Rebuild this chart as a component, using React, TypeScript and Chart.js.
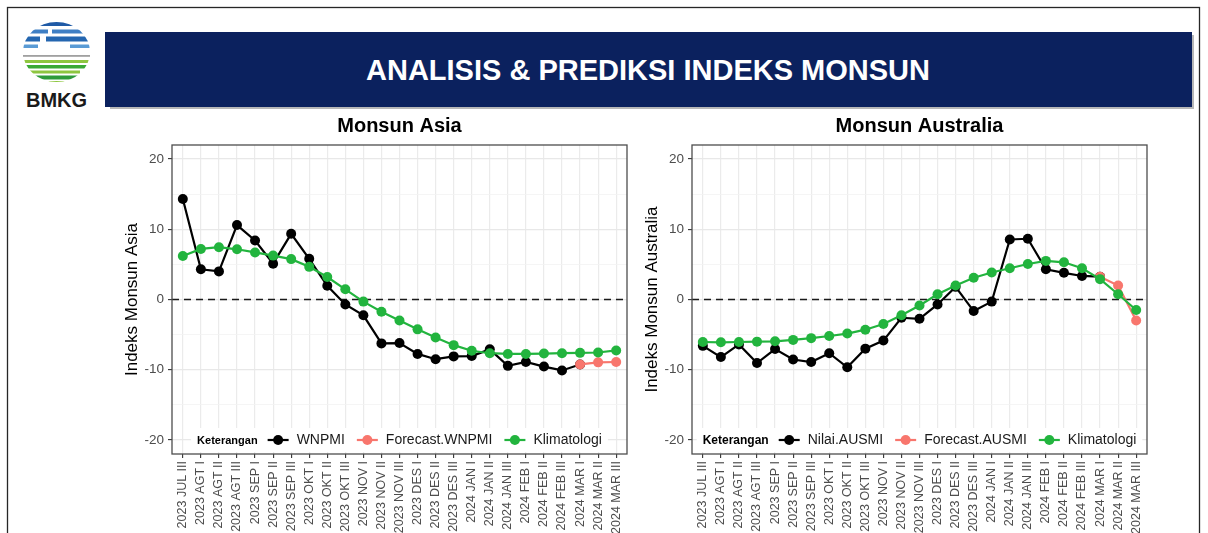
import React, { useEffect, useRef } from "react";
import { Chart, registerables } from "chart.js";

Chart.register(...registerables);

// ---------- data ----------
const periods: string[] = [
  "2023 JUL III", "2023 AGT I", "2023 AGT II", "2023 AGT III",
  "2023 SEP I", "2023 SEP II", "2023 SEP III",
  "2023 OKT I", "2023 OKT II", "2023 OKT III",
  "2023 NOV I", "2023 NOV II", "2023 NOV III",
  "2023 DES I", "2023 DES II", "2023 DES III",
  "2024 JAN I", "2024 JAN II", "2024 JAN III",
  "2024 FEB I", "2024 FEB II", "2024 FEB III",
  "2024 MAR I", "2024 MAR II", "2024 MAR III",
];

// Monsun Asia (WNPMI), observed from 2023 JUL III to 2024 MAR I
const asiaObserved: number[] = [
  14.3, 4.3, 4.0, 10.6, 8.4, 5.1, 9.35, 5.8, 1.95, -0.7, -2.25, -6.25, -6.2,
  -7.75, -8.5, -8.1, -8.05, -7.1, -9.45, -8.9, -9.55, -10.1, -9.25,
];
// Forecast from 2024 MAR I to 2024 MAR III
const asiaForecast: number[] = [-9.25, -8.95, -8.9];
const asiaClimatology: number[] = [
  6.2, 7.2, 7.45, 7.15, 6.7, 6.25, 5.75, 4.65, 3.2, 1.45, -0.3, -1.75, -3.0,
  -4.25, -5.4, -6.5, -7.3, -7.65, -7.75, -7.75, -7.7, -7.65, -7.6, -7.55, -7.25,
];

// Monsun Australia (AUSMI)
const ausObserved: number[] = [
  -6.6, -8.2, -6.4, -9.05, -7.05, -8.55, -8.9, -7.65, -9.65, -7.0, -5.85, -2.6,
  -2.75, -0.7, 1.8, -1.65, -0.3, 8.55, 8.65, 4.3, 3.8, 3.35, 3.25,
];
const ausForecast: number[] = [3.25, 2.0, -3.0];
const ausClimatology: number[] = [
  -6.05, -6.1, -6.05, -6.0, -5.95, -5.75, -5.5, -5.2, -4.85, -4.3, -3.5, -2.25,
  -0.85, 0.75, 2.0, 3.1, 3.85, 4.45, 5.05, 5.5, 5.3, 4.45, 2.9, 0.75, -1.5,
];

const FORECAST_START = 22; // index of "2024 MAR I"
const yTickValues: number[] = [-20, -15, -10, -5, 0, 5, 10, 15, 20];
const Y_MIN = -22;
const Y_MAX = 22;

// ---------- styles ----------
const FONT = "'Liberation Sans', Arial, Helvetica, sans-serif";
const BLACK = "#000000";
const SALMON = "#F8766D";
const GREEN = "#22B43E";

const decorPlugin = {
  id: "decor",
  beforeDatasetsDraw(chart: any) {
    const { ctx, chartArea: a, scales } = chart;
    const y0 = scales.y.getPixelForValue(0);
    ctx.save();
    ctx.strokeStyle = "#1a1a1a";
    ctx.lineWidth = 1.6;
    ctx.setLineDash([7, 5]);
    ctx.beginPath();
    ctx.moveTo(a.left, y0);
    ctx.lineTo(a.right, y0);
    ctx.stroke();
    ctx.restore();
  },
  afterDatasetsDraw(chart: any, _args: any, opts: any) {
    const { ctx, chartArea: a } = chart;
    ctx.save();
    const items = chart.data.datasets.map((d: any) => ({
      label: d.label,
      color: d.borderColor,
    }));
    const titleFont = `bold ${opts.legendTitleSize}px ${FONT}`;
    const itemFont = `14px ${FONT}`;
    ctx.font = titleFont;
    const titleW = ctx.measureText(opts.legendTitle).width;
    ctx.font = itemFont;
    const widths = items.map((it: any) => ctx.measureText(it.label).width);
    const keyW = 21;
    const keyGap = 8;
    const itemGap = 12;
    const titleGap = 10;
    let total = titleW + titleGap;
    widths.forEach((w: number, i: number) => {
      total += keyW + keyGap + w + (i < widths.length - 1 ? itemGap : 0);
    });
    const cx = (a.left + a.right) / 2;
    const cy = a.bottom - 14;
    let x = cx - total / 2;
    ctx.fillStyle = "#ffffff";
    ctx.fillRect(x - 6, cy - 12, total + 12, 24);
    ctx.textBaseline = "middle";
    ctx.textAlign = "left";
    ctx.fillStyle = "#000000";
    ctx.font = titleFont;
    ctx.fillText(opts.legendTitle, x, cy + 0.5);
    x += titleW + titleGap;
    items.forEach((it: any, i: number) => {
      ctx.strokeStyle = it.color;
      ctx.lineWidth = 2.2;
      ctx.beginPath();
      ctx.moveTo(x, cy);
      ctx.lineTo(x + keyW, cy);
      ctx.stroke();
      ctx.fillStyle = it.color;
      ctx.beginPath();
      ctx.arc(x + keyW / 2, cy, 5, 0, Math.PI * 2);
      ctx.fill();
      x += keyW + keyGap;
      ctx.fillStyle = "#1a1a1a";
      ctx.font = itemFont;
      ctx.fillText(it.label, x, cy + 0.5);
      x += widths[i] + itemGap;
    });
    // panel border
    ctx.strokeStyle = "#4d4d4d";
    ctx.lineWidth = 1.3;
    ctx.strokeRect(a.left, a.top, a.right - a.left, a.bottom - a.top);
    // panel title
    ctx.fillStyle = "#000000";
    ctx.font = `bold 20px ${FONT}`;
    ctx.textAlign = "center";
    ctx.fillText(opts.title, cx, opts.titleY);
    ctx.restore();
  },
};

type PanelProps = {
  left: number;
  title: string;
  yTitle: string;
  observedLabel: string;
  forecastLabel: string;
  observed: number[];
  forecast: number[];
  climatology: number[];
  legendTitleSize: number;
};

const seriesStyle = {
  borderWidth: 2.2,
  pointRadius: 5,
  pointHoverRadius: 5,
  pointBorderWidth: 0,
  tension: 0,
  fill: false,
};

function MonsoonPanel(p: PanelProps) {
  const ref = useRef<HTMLCanvasElement | null>(null);
  useEffect(() => {
    if (!ref.current) return;
    const chart = new Chart(ref.current, {
      type: "line",
      data: {
        datasets: [
          {
            label: p.observedLabel,
            data: p.observed.map((v, i) => ({ x: i, y: v })),
            borderColor: BLACK,
            backgroundColor: BLACK,
            order: 3,
            ...seriesStyle,
          },
          {
            label: p.forecastLabel,
            data: p.forecast.map((v, i) => ({ x: FORECAST_START + i, y: v })),
            borderColor: SALMON,
            backgroundColor: SALMON,
            order: 2,
            ...seriesStyle,
          },
          {
            label: "Klimatologi",
            data: p.climatology.map((v, i) => ({ x: i, y: v })),
            borderColor: GREEN,
            backgroundColor: GREEN,
            order: 1,
            ...seriesStyle,
          },
        ],
      },
      options: {
        responsive: false,
        animation: false,
        events: [],
        layout: { padding: { top: 37, right: 13, left: 0, bottom: 0 } },
        plugins: {
          legend: { display: false },
          tooltip: { enabled: false },
          title: { display: false },
          decor: {
            title: p.title,
            titleY: 18,
            legendTitle: "Keterangan",
            legendTitleSize: p.legendTitleSize,
          },
        } as any,
        scales: {
          x: {
            type: "linear",
            min: -0.6,
            max: periods.length - 1 + 0.6,
            bounds: "data",
            afterBuildTicks: (s: any) => {
              s.ticks = periods.map((_, i) => ({ value: i }));
            },
            afterFit: (s: any) => {
              s.height = 79;
            },
            ticks: {
              autoSkip: false,
              minRotation: 90,
              maxRotation: 90,
              padding: 3,
              color: "#4d4d4d",
              font: { family: FONT, size: 12.5 },
              callback: (v: any) => periods[v] ?? "",
            },
            grid: {
              color: "#ebebeb",
              lineWidth: 1.2,
              drawTicks: true,
              tickLength: 4,
              tickColor: "#333333",
              tickWidth: 1.1,
            },
            border: { display: false },
          },
          y: {
            type: "linear",
            min: Y_MIN,
            max: Y_MAX,
            bounds: "data",
            afterBuildTicks: (s: any) => {
              s.ticks = yTickValues.map((value) => ({ value }));
            },
            afterFit: (s: any) => {
              s.width = 62;
            },
            ticks: {
              autoSkip: false,
              padding: 4,
              color: "#4d4d4d",
              font: { family: FONT, size: 13.5 },
              callback: (v: any) => (v % 10 === 0 ? String(v) : ""),
            },
            grid: {
              color: (c: any) =>
                c.tick && c.tick.value % 10 === 0 ? "#e8e8e8" : "#f2f2f2",
              lineWidth: (c: any) =>
                c.tick && c.tick.value % 10 === 0 ? 1.2 : 0.8,
              drawTicks: true,
              tickLength: 4,
              tickColor: (c: any) =>
                c.tick && c.tick.value % 10 === 0 ? "#333333" : "rgba(0,0,0,0)",
              tickWidth: 1.1,
            },
            border: { display: false },
            title: {
              display: true,
              text: p.yTitle,
              color: "#000000",
              font: { family: FONT, size: 17 },
              padding: { top: 12, bottom: 0 },
            },
          },
        },
      } as any,
      plugins: [decorPlugin as any],
    });
    return () => chart.destroy();
  }, []);
  return (
    <canvas
      ref={ref}
      width={530}
      height={425}
      style={{ position: "absolute", left: p.left, top: 108, width: 530, height: 425 }}
    />
  );
}

function Header() {
  return (
    <svg
      width={1208}
      height={533}
      style={{ position: "absolute", left: 0, top: 0 }}
    >
      <rect x={7.5} y={7.5} width={1192} height={600} fill="none" stroke="#262626" strokeWidth={1.3} />
      <defs>
        <clipPath id="logoClip">
          <ellipse cx={56.5} cy={52} rx={33.5} ry={30} />
        </clipPath>
      </defs>
      <g clipPath="url(#logoClip)">
        <rect x={20} y={21} width={75} height={5} fill="#1f5aa6" />
        <rect x={20} y={29.5} width={28} height={4} fill="#3f7fc4" />
        <rect x={52} y={29.5} width={40} height={4} fill="#3f7fc4" />
        <rect x={20} y={36.5} width={20} height={5} fill="#2466b0" />
        <rect x={46} y={36.5} width={46} height={5} fill="#2466b0" />
        <rect x={20} y={44.5} width={18} height={3.5} fill="#5a9bd5" />
        <rect x={70} y={44.5} width={22} height={3.5} fill="#5a9bd5" />
        <rect x={20} y={60} width={75} height={3} fill="#8dc63f" />
        <rect x={20} y={65} width={75} height={3.5} fill="#3aa935" />
        <rect x={20} y={70.5} width={60} height={3} fill="#8dc63f" />
        <rect x={20} y={75.5} width={75} height={4} fill="#2e9b3a" />
        <rect x={20} y={81} width={75} height={2} fill="#8dc63f" />
      </g>
      <rect x={23} y={55} width={67} height={1.8} fill="#a0a0a0" />
      <text
        x={56.5}
        y={107}
        textAnchor="middle"
        fontFamily={FONT}
        fontWeight="bold"
        fontSize={20}
        fill="#1a1a1a"
      >
        BMKG
      </text>
      <rect x={110} y={35} width={1084} height={74} fill="#b8b8b8" />
      <rect x={105} y={32} width={1087} height={75} fill="#0b215e" />
      <text
        x={648}
        y={79.5}
        textAnchor="middle"
        fontFamily={FONT}
        fontWeight="bold"
        fontSize={29}
        fill="#ffffff"
      >
        ANALISIS &amp; PREDIKSI INDEKS MONSUN
      </text>
    </svg>
  );
}

export default function App() {
  return (
    <div
      style={{
        position: "absolute",
        left: 0,
        top: 0,
        width: 1208,
        height: 533,
        overflow: "hidden",
        background: "#ffffff",
      }}
    >
      <Header />
      <MonsoonPanel
        left={110}
        title="Monsun Asia"
        yTitle="Indeks Monsun Asia"
        observedLabel="WNPMI"
        forecastLabel="Forecast.WNPMI"
        observed={asiaObserved}
        forecast={asiaForecast}
        climatology={asiaClimatology}
        legendTitleSize={11}
      />
      <MonsoonPanel
        left={630}
        title="Monsun Australia"
        yTitle="Indeks Monsun Australia"
        observedLabel="Nilai.AUSMI"
        forecastLabel="Forecast.AUSMI"
        observed={ausObserved}
        forecast={ausForecast}
        climatology={ausClimatology}
        legendTitleSize={12}
      />
    </div>
  );
}
